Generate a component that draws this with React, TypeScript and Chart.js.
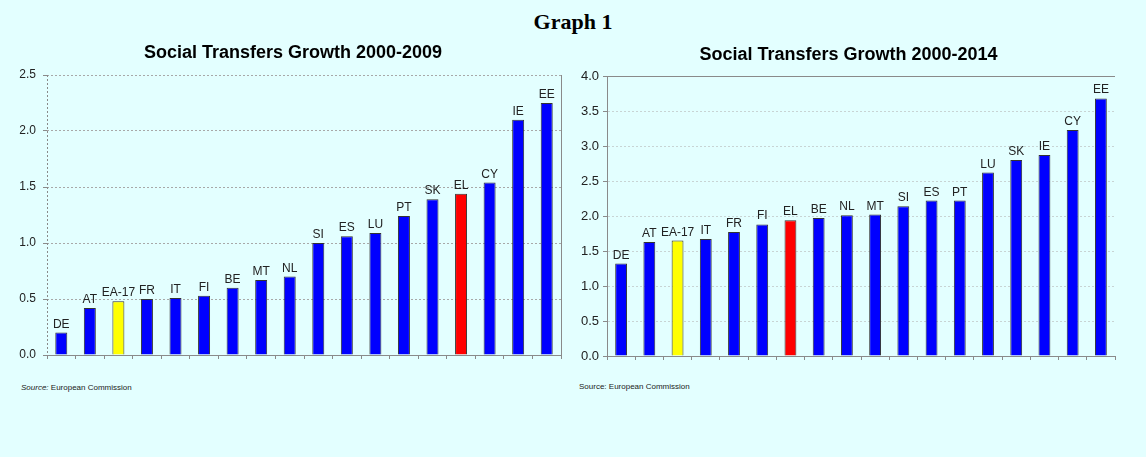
import React, { useEffect, useRef } from "react";
import { Chart, registerables } from "chart.js";

Chart.register(...registerables);

const leftCategories = ["DE", "AT", "EA-17", "FR", "IT", "FI", "BE", "MT", "NL", "SI", "ES", "LU", "PT", "SK", "EL", "CY", "IE", "EE"];
const leftValues = [0.2, 0.42, 0.48, 0.5, 0.51, 0.53, 0.6, 0.67, 0.7, 1.0, 1.06, 1.09, 1.24, 1.39, 1.44, 1.54, 2.1, 2.25];
const rightCategories = ["DE", "AT", "EA-17", "IT", "FR", "FI", "EL", "BE", "NL", "MT", "SI", "ES", "PT", "LU", "SK", "IE", "CY", "EE"];
const rightValues = [1.32, 1.63, 1.65, 1.67, 1.77, 1.88, 1.94, 1.97, 2.01, 2.02, 2.14, 2.22, 2.22, 2.62, 2.8, 2.87, 3.23, 3.68];
const leftTitle = "Social Transfers Growth 2000-2009";
const rightTitle = "Social Transfers Growth 2000-2014";

const FONT = '"Liberation Sans", Arial, sans-serif';
const BG = "#E3FFFF";

function colorFor(c: string) {
  if (c === "EA-17") return "#FFFF00";
  if (c === "EL") return "#FF0000";
  return "#0000FF";
}

type Cfg = {
  labels: string[];
  values: number[];
  title: string;
  titleX: number;
  titleY: number;
  max: number;
  left: number;
  width: number;
  yWidth: number;
  padTop: number;
  padRight: number;
  padBottom: number;
  tickFont: number;
  tickPad: number;
  variant: "left" | "right";
};

function BarChart({ cfg }: { cfg: Cfg }) {
  const ref = useRef<HTMLCanvasElement | null>(null);
  useEffect(() => {
    if (!ref.current) return;
    const framePlugin = {
      id: "frameAndLabels",
      afterDatasetsDraw(chart: any) {
        const ctx = chart.ctx;
        const a = chart.chartArea;
        ctx.save();
        ctx.strokeStyle = "#8a8a8a";
        ctx.lineWidth = 1;
        if (cfg.variant === "left") {
          ctx.setLineDash([2, 2]);
          ctx.beginPath();
          ctx.moveTo(a.left + 0.5, a.top);
          ctx.lineTo(a.left + 0.5, a.bottom);
          ctx.stroke();
          ctx.setLineDash([]);
          ctx.beginPath();
          ctx.moveTo(a.right + 0.5, a.top);
          ctx.lineTo(a.right + 0.5, a.bottom);
          ctx.stroke();
        } else {
          ctx.beginPath();
          ctx.moveTo(a.left, a.top + 0.5);
          ctx.lineTo(a.right, a.top + 0.5);
          ctx.stroke();
        }
        // chart title
        ctx.font = `bold 18px ${FONT}`;
        ctx.fillStyle = "#000";
        ctx.textAlign = "center";
        ctx.textBaseline = "middle";
        ctx.fillText(cfg.title, cfg.titleX, cfg.titleY);
        // bar labels
        const meta = chart.getDatasetMeta(0);
        ctx.font = `12px ${FONT}`;
        ctx.fillStyle = "#222";
        ctx.textAlign = "center";
        ctx.textBaseline = "alphabetic";
        meta.data.forEach((bar: any, i: number) => {
          ctx.fillText(String(chart.data.labels[i]), bar.x, bar.y - 5);
        });
        ctx.restore();
      },
    };
    const chart = new Chart(ref.current, {
      type: "bar",
      data: {
        labels: cfg.labels,
        datasets: [
          {
            data: cfg.values,
            backgroundColor: cfg.labels.map(colorFor),
            borderColor: "#333333",
            borderWidth: 1,
            categoryPercentage: 1,
            barPercentage: 0.42,
          },
        ],
      },
      options: {
        responsive: false,
        animation: false,
        layout: { padding: { top: cfg.padTop, left: 0, right: cfg.padRight, bottom: cfg.padBottom } },
        plugins: {
          legend: { display: false },
          tooltip: { enabled: false },
          title: { display: false },
        },
        scales: {
          x: {
            ticks: { display: false },
            grid: {
              offset: true,
              drawOnChartArea: false,
              drawTicks: true,
              tickLength: 4,
              tickColor: "#8a8a8a",
              color: "#8a8a8a",
            },
            border: { display: true, color: "#8a8a8a", width: 1 },
            afterFit: (s: any) => {
              s.height = 5;
            },
          },
          y: {
            min: 0,
            max: cfg.max,
            ticks: {
              stepSize: 0.5,
              color: "#222",
              padding: cfg.tickPad,
              font: { family: FONT, size: cfg.tickFont },
              callback: (v: any) => Number(v).toFixed(1),
            },
            grid: {
              color: cfg.variant === "left" ? "#a8a8a8" : "#c8d4d4",
              tickLength: 4,
              tickColor: "#8a8a8a",
              drawTicks: true,
            },
            border: {
              display: cfg.variant === "right",
              color: "#8a8a8a",
              width: 1,
              dash: [2, 2],
            },
            afterFit: (s: any) => {
              s.width = cfg.yWidth;
              s.paddingTop = 0;
              s.paddingBottom = 0;
            },
          },
        },
      },
      plugins: [framePlugin],
    } as any);
    return () => chart.destroy();
  }, [cfg]);
  return (
    <canvas
      ref={ref}
      width={cfg.width}
      height={330}
      style={{ position: "absolute", left: cfg.left, top: 40, width: cfg.width, height: 330 }}
    />
  );
}

const leftCfg: Cfg = {
  labels: leftCategories,
  values: leftValues,
  title: leftTitle,
  titleX: 293,
  titleY: 13,
  max: 2.5,
  left: 0,
  width: 586,
  yWidth: 47,
  padTop: 35,
  padRight: 25,
  padBottom: 10,
  tickFont: 12,
  tickPad: 7,
  variant: "left",
};

const rightCfg: Cfg = {
  labels: rightCategories,
  values: rightValues,
  title: rightTitle,
  titleX: 275.5,
  titleY: 15,
  max: 4,
  left: 573,
  width: 551,
  yWidth: 34,
  padTop: 36,
  padRight: 9,
  padBottom: 9,
  tickFont: 13,
  tickPad: 4,
  variant: "right",
};

export default function App() {
  return (
    <div
      style={{
        position: "fixed",
        left: 0,
        top: 0,
        width: 1146,
        height: 457,
        background: BG,
        overflow: "hidden",
      }}
    >
      <div
        style={{
          position: "absolute",
          left: 0,
          width: 1146,
          top: 8,
          textAlign: "center",
          fontFamily: '"Liberation Serif", "Times New Roman", serif',
          fontWeight: "bold",
          fontSize: 22,
          lineHeight: "28px",
          color: "#000",
        }}
      >
        Graph 1
      </div>
      <BarChart cfg={leftCfg} />
      <BarChart cfg={rightCfg} />
      <div
        style={{
          position: "absolute",
          left: 21,
          top: 383,
          fontFamily: FONT,
          fontSize: 8,
          lineHeight: "10px",
          color: "#222",
          whiteSpace: "nowrap",
        }}
      >
        <i>Source:</i> European Commission
      </div>
      <div
        style={{
          position: "absolute",
          left: 579,
          top: 382,
          fontFamily: FONT,
          fontSize: 8,
          lineHeight: "10px",
          color: "#222",
          whiteSpace: "nowrap",
        }}
      >
        Source: European Commission
      </div>
    </div>
  );
}
